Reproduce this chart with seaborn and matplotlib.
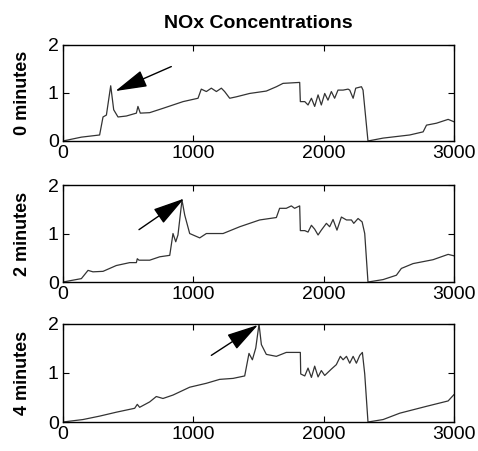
import matplotlib
matplotlib.use("Agg")
import matplotlib.pyplot as plt
import seaborn as sns
import pandas as pd

# Données (temps, concentration NOx)
t0 = [0, 141, 281, 307, 333, 366, 389, 422, 486, 563, 575, 593, 665, 767, 921, 1036,
      1061, 1100, 1138, 1177, 1215, 1240, 1279, 1330, 1432, 1560, 1637, 1688, 1816,
      1821, 1855, 1880, 1906, 1931, 1957, 1982, 2008, 2033, 2059, 2084, 2110, 2149,
      2187, 2200, 2226, 2246, 2290, 2302, 2340, 2456, 2660, 2763, 2789, 2865, 2955, 3000]
nox0 = [0, 0.08, 0.125, 0.5, 0.54, 1.15, 0.65, 0.5, 0.52, 0.58, 0.72, 0.58, 0.59, 0.68,
        0.82, 0.89, 1.08, 1.03, 1.1, 1.03, 1.1, 1.03, 0.89, 0.92, 0.99, 1.04, 1.13, 1.2,
        1.22, 0.82, 0.82, 0.75, 0.89, 0.72, 0.96, 0.75, 0.99, 0.85, 1.03, 0.89, 1.06,
        1.06, 1.08, 1.06, 0.89, 1.1, 1.13, 1.06, 0, 0.06, 0.125, 0.19, 0.33, 0.37, 0.45, 0.4]

t2 = [0, 141, 192, 230, 307, 409, 512, 563, 570, 583, 665, 742, 819, 844, 865, 882,
      913, 934, 972, 1049, 1100, 1228, 1356, 1509, 1637, 1662, 1713, 1752, 1777, 1816,
      1821, 1855, 1880, 1906, 1931, 1957, 1982, 2021, 2046, 2072, 2102, 2136, 2175,
      2213, 2231, 2264, 2295, 2315, 2340, 2456, 2558, 2596, 2686, 2839, 2955, 3000]
nox2 = [0, 0.07, 0.24, 0.21, 0.22, 0.34, 0.4, 0.4, 0.48, 0.45, 0.45, 0.52, 0.55, 1.0,
        0.83, 0.97, 1.69, 1.38, 1.0, 0.91, 1.0, 1.0, 1.14, 1.28, 1.33, 1.52, 1.52, 1.57,
        1.52, 1.57, 1.06, 1.06, 1.03, 1.17, 1.09, 0.97, 1.07, 1.21, 1.14, 1.29, 1.07,
        1.34, 1.28, 1.28, 1.21, 1.31, 1.24, 1.0, 0, 0.05, 0.14, 0.28, 0.38, 0.46, 0.57, 0.54]

t4 = [0, 153, 281, 409, 550, 570, 588, 665, 716, 767, 844, 972, 1100, 1202, 1305, 1394,
      1427, 1453, 1479, 1504, 1522, 1560, 1637, 1713, 1821, 1824, 1855, 1880, 1906,
      1931, 1957, 1982, 2008, 2059, 2097, 2128, 2149, 2175, 2200, 2226, 2251, 2277,
      2297, 2315, 2340, 2456, 2584, 2789, 2955, 3000]
nox4 = [0, 0.05, 0.12, 0.2, 0.28, 0.36, 0.3, 0.41, 0.52, 0.48, 0.55, 0.71, 0.79, 0.87,
        0.89, 0.94, 1.4, 1.27, 1.51, 2.0, 1.58, 1.38, 1.34, 1.42, 1.42, 0.98, 0.94, 1.1,
        0.91, 1.14, 0.92, 1.05, 0.95, 1.08, 1.17, 1.34, 1.27, 1.34, 1.2, 1.34, 1.2, 1.36,
        1.42, 0.98, 0, 0.05, 0.18, 0.32, 0.43, 0.56]

labels = ["0 minutes", "2 minutes", "4 minutes"]
series = [(t0, nox0), (t2, nox2), (t4, nox4)]

# Flèches : (queue x, queue y, pointe x, pointe y)
arrows = [(831, 1.55, 402, 1.04), (583, 1.08, 929, 1.72), (1138, 1.36, 1496, 1.98)]

sns.set_style("ticks")
plt.rcParams["font.family"] = ["Liberation Sans", "DejaVu Sans"]
plt.rcParams["xtick.direction"] = "in"
plt.rcParams["ytick.direction"] = "in"
for k in ["text.color", "axes.labelcolor", "xtick.color", "ytick.color"]:
    plt.rcParams[k] = "black"

fig = plt.figure(figsize=(4.78, 4.51), dpi=100)
positions = [[0.1318, 0.6874, 0.818, 0.2129],
             [0.1318, 0.3747, 0.818, 0.2150],
             [0.1318, 0.0643, 0.818, 0.2173]]

for i, (pos, (t, v), lab, arr) in enumerate(zip(positions, series, labels, arrows)):
    ax = fig.add_axes(pos)
    df = pd.DataFrame({"temps": t, "nox": v})
    sns.lineplot(data=df, x="temps", y="nox", ax=ax, color="#333333", lw=0.9)
    ax.set_xlim(0, 3000)
    ax.set_ylim(0, 2)
    ax.set_xticks([0, 1000, 2000, 3000])
    ax.set_yticks([0, 1, 2])
    ax.tick_params(top=True, right=True, length=4, width=0.8, labelsize=14, pad=3,
                   colors="black")
    for s in ax.spines.values():
        s.set_linewidth(1.0)
        s.set_color("black")
    ax.set_xlabel("")
    ax.set_ylabel(lab, fontsize=13, fontweight="bold", labelpad=12, color="black")
    ax.annotate("", xy=(arr[2], arr[3]), xytext=(arr[0], arr[1]),
                arrowprops=dict(arrowstyle="-|>,head_length=1.1,head_width=0.3",
                                mutation_scale=18, color="black", lw=1.0,
                                shrinkA=0, shrinkB=0))
    if i == 0:
        ax.set_title("NOx Concentrations", fontsize=14, fontweight="bold", pad=12,
                     color="black")

fig.savefig("out.png", dpi=100)
